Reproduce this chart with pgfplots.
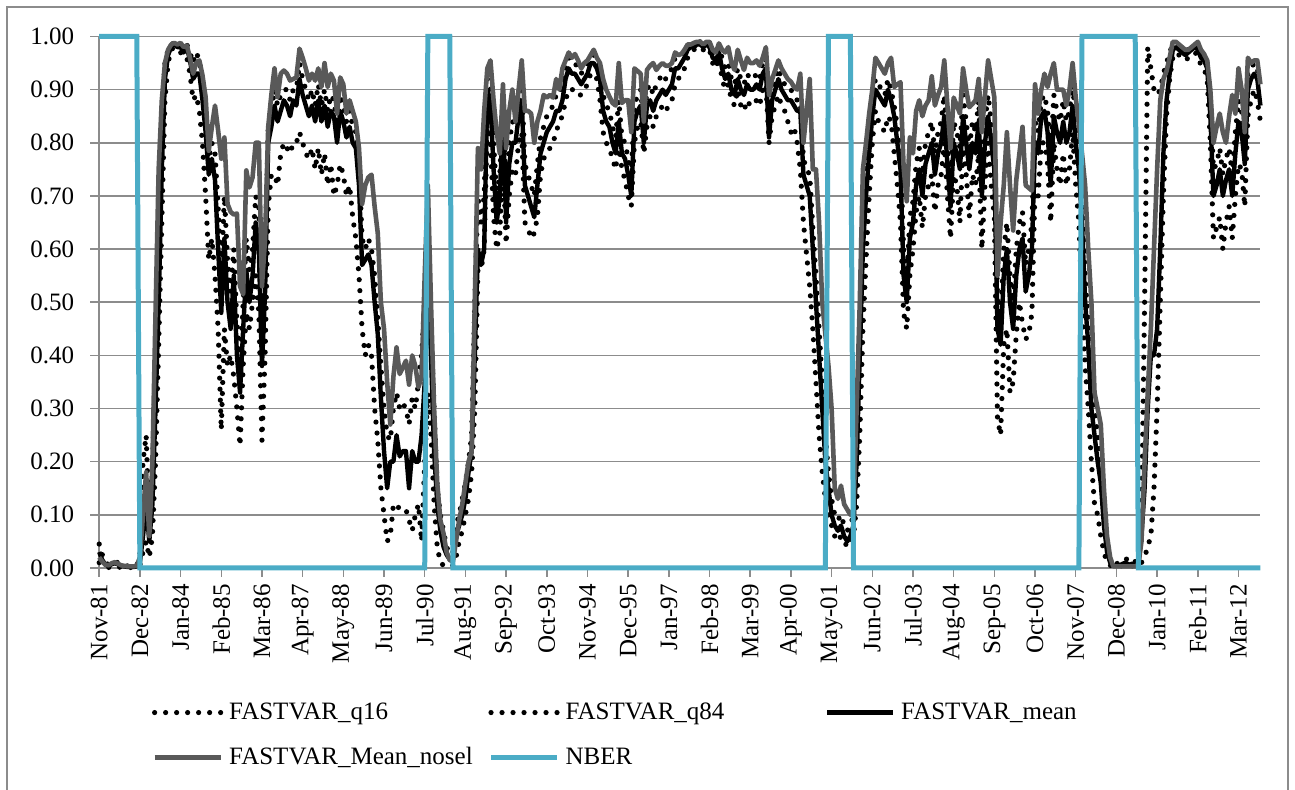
\documentclass[border=0pt]{standalone}
\usepackage{pgfplots}
\usepackage{pgfplotstable}
\pgfplotsset{compat=1.18}
\usepackage{fontspec}
\setmainfont{Liberation Serif}
\definecolor{gridgray}{RGB}{140,140,140}
\definecolor{noselgray}{RGB}{89,89,89}
\definecolor{nberblue}{RGB}{75,172,198}
\pgfplotstableread{
m q16 q84 mean nosel nber
0 0.01 0.045 0.03 0.02 1
1 0.005 0.025 0.015 0.012 1
2 0.002 0.01 0.006 0.006 1
3 0.001 0.006 0.004 0.005 1
4 0.002 0.01 0.007 0.009 1
5 0.003 0.012 0.009 0.011 1
6 0.002 0.01 0.007 0.008 1
7 0.001 0.006 0.004 0.005 1
8 0.001 0.005 0.003 0.004 1
9 0.001 0.004 0.002 0.003 1
10 0.001 0.004 0.002 0.003 1
11 0.001 0.004 0.002 0.003 1
12 0.001 0.005 0.003 0.004 1
13 0.005 0.02 0.01 0.02 0
14 0.03 0.2 0.06 0.1 0
15 0.05 0.25 0.12 0.18 0
16 0.02 0.08 0.05 0.06 0
17 0.06 0.18 0.12 0.2 0
18 0.2 0.4 0.3 0.48 0
19 0.42 0.62 0.5 0.75 0
20 0.65 0.85 0.75 0.88 0
21 0.88 0.95 0.92 0.95 0
22 0.95 0.975 0.965 0.975 0
23 0.975 0.985 0.98 0.985 0
24 0.98 0.988 0.985 0.988 0
25 0.975 0.985 0.98 0.985 0
26 0.97 0.985 0.98 0.988 0
27 0.96 0.975 0.97 0.98 0
28 0.96 0.985 0.98 0.983 0
29 0.93 0.97 0.955 0.96 0
30 0.88 0.95 0.92 0.93 0
31 0.89 0.97 0.93 0.95 0
32 0.86 0.955 0.93 0.955 0
33 0.8 0.92 0.88 0.927 0
34 0.7 0.86 0.82 0.886 0
35 0.58 0.77 0.74 0.785 0
36 0.62 0.8 0.77 0.83 0
37 0.55 0.78 0.73 0.87 0
38 0.45 0.68 0.6 0.823 0
39 0.26 0.55 0.48 0.77 0
40 0.45 0.7 0.62 0.81 0
41 0.38 0.58 0.5 0.685 0
42 0.4 0.52 0.45 0.67 0
43 0.36 0.6 0.55 0.665 0
44 0.3 0.46 0.4 0.667 0
45 0.23 0.38 0.33 0.53 0
46 0.38 0.5 0.45 0.515 0
47 0.48 0.62 0.56 0.748 0
48 0.45 0.56 0.5 0.716 0
49 0.5 0.6 0.55 0.735 0
50 0.55 0.7 0.65 0.8 0
51 0.48 0.68 0.6 0.8 0
52 0.24 0.44 0.38 0.53 0
53 0.4 0.58 0.52 0.62 0
54 0.68 0.83 0.8 0.83 0
55 0.74 0.86 0.83 0.89 0
56 0.74 0.9 0.87 0.94 0
57 0.72 0.87 0.84 0.886 0
58 0.78 0.89 0.86 0.93 0
59 0.8 0.9 0.88 0.936 0
60 0.79 0.9 0.87 0.93 0
61 0.78 0.88 0.85 0.917 0
62 0.8 0.9 0.88 0.92 0
63 0.8 0.9 0.87 0.923 0
64 0.82 0.95 0.92 0.977 0
65 0.8 0.92 0.89 0.96 0
66 0.78 0.9 0.87 0.94 0
67 0.77 0.88 0.85 0.917 0
68 0.79 0.9 0.87 0.93 0
69 0.75 0.87 0.84 0.917 0
70 0.79 0.91 0.88 0.94 0
71 0.74 0.87 0.84 0.905 0
72 0.78 0.9 0.87 0.95 0
73 0.72 0.86 0.83 0.905 0
74 0.76 0.89 0.86 0.93 0
75 0.7 0.88 0.85 0.917 0
76 0.72 0.83 0.8 0.855 0
77 0.76 0.89 0.86 0.923 0
78 0.74 0.87 0.84 0.91 0
79 0.7 0.84 0.81 0.855 0
80 0.72 0.86 0.83 0.88 0
81 0.66 0.83 0.8 0.86 0
82 0.62 0.82 0.79 0.84 0
83 0.55 0.76 0.72 0.79 0
84 0.45 0.62 0.57 0.685 0
85 0.4 0.6 0.58 0.72 0
86 0.42 0.62 0.59 0.735 0
87 0.4 0.6 0.57 0.74 0
88 0.3 0.55 0.5 0.68 0
89 0.24 0.47 0.44 0.63 0
90 0.15 0.38 0.32 0.5 0
91 0.1 0.3 0.22 0.45 0
92 0.05 0.25 0.15 0.35 0
93 0.06 0.24 0.2 0.27 0
94 0.12 0.3 0.2 0.36 0
95 0.12 0.33 0.25 0.415 0
96 0.11 0.3 0.21 0.365 0
97 0.11 0.31 0.22 0.377 0
98 0.11 0.3 0.22 0.39 0
99 0.09 0.27 0.15 0.345 0
100 0.07 0.32 0.22 0.4 0
101 0.1 0.3 0.2 0.38 0
102 0.12 0.35 0.2 0.34 0
103 0.05 0.4 0.25 0.36 0
104 0.2 0.5 0.35 0.55 0
105 0.33 0.62 0.55 0.72 1
106 0.25 0.45 0.4 0.5 1
107 0.12 0.3 0.22 0.3 1
108 0.04 0.15 0.12 0.16 1
109 0.01 0.1 0.07 0.09 1
110 0.005 0.07 0.04 0.065 1
111 0.003 0.04 0.025 0.03 1
112 0.002 0.025 0.016 0.015 1
113 0.005 0.03 0.02 0.012 0
114 0.02 0.08 0.06 0.05 0
115 0.05 0.1 0.08 0.09 0
116 0.07 0.13 0.1 0.12 0
117 0.1 0.16 0.13 0.16 0
118 0.13 0.2 0.18 0.2 0
119 0.18 0.25 0.22 0.22 0
120 0.3 0.5 0.4 0.5 0
121 0.56 0.7 0.6 0.79 0
122 0.56 0.65 0.57 0.75 0
123 0.6 0.7 0.6 0.86 0
124 0.84 0.92 0.9 0.94 0
125 0.8 0.91 0.88 0.955 0
126 0.66 0.8 0.75 0.88 0
127 0.6 0.7 0.65 0.82 0
128 0.63 0.74 0.7 0.78 0
129 0.78 0.88 0.85 0.91 0
130 0.61 0.7 0.65 0.79 0
131 0.7 0.8 0.76 0.86 0
132 0.75 0.84 0.8 0.9 0
133 0.74 0.83 0.8 0.84 0
134 0.8 0.88 0.85 0.9 0
135 0.82 0.91 0.88 0.955 0
136 0.65 0.76 0.72 0.86 0
137 0.64 0.74 0.7 0.86 0
138 0.62 0.72 0.68 0.855 0
139 0.63 0.7 0.66 0.8 0
140 0.66 0.76 0.72 0.84 0
141 0.74 0.81 0.78 0.86 0
142 0.77 0.83 0.8 0.89 0
143 0.78 0.85 0.82 0.885 0
144 0.79 0.86 0.83 0.89 0
145 0.8 0.87 0.84 0.885 0
146 0.82 0.89 0.86 0.92 0
147 0.84 0.89 0.86 0.9 0
148 0.85 0.91 0.88 0.94 0
149 0.88 0.94 0.92 0.955 0
150 0.9 0.96 0.94 0.97 0
151 0.9 0.95 0.93 0.96 0
152 0.9 0.95 0.93 0.967 0
153 0.89 0.94 0.92 0.955 0
154 0.89 0.93 0.91 0.94 0
155 0.9 0.94 0.92 0.95 0
156 0.91 0.95 0.93 0.955 0
157 0.93 0.96 0.95 0.965 0
158 0.93 0.965 0.95 0.975 0
159 0.92 0.955 0.94 0.96 0
160 0.88 0.94 0.92 0.95 0
161 0.82 0.89 0.86 0.92 0
162 0.8 0.87 0.84 0.9 0
163 0.79 0.86 0.83 0.887 0
164 0.77 0.83 0.8 0.875 0
165 0.75 0.81 0.78 0.87 0
166 0.8 0.88 0.84 0.95 0
167 0.75 0.81 0.78 0.875 0
168 0.73 0.8 0.77 0.88 0
169 0.7 0.77 0.74 0.88 0
170 0.68 0.74 0.7 0.82 0
171 0.8 0.87 0.84 0.94 0
172 0.83 0.89 0.86 0.935 0
173 0.84 0.9 0.87 0.93 0
174 0.78 0.83 0.8 0.84 0
175 0.83 0.9 0.87 0.937 0
176 0.85 0.91 0.88 0.945 0
177 0.83 0.89 0.86 0.95 0
178 0.85 0.91 0.88 0.937 0
179 0.86 0.92 0.89 0.945 0
180 0.87 0.93 0.9 0.95 0
181 0.86 0.92 0.89 0.945 0
182 0.87 0.93 0.9 0.945 0
183 0.88 0.94 0.91 0.95 0
184 0.91 0.96 0.94 0.97 0
185 0.92 0.96 0.94 0.965 0
186 0.93 0.965 0.95 0.967 0
187 0.94 0.97 0.96 0.975 0
188 0.96 0.98 0.975 0.985 0
189 0.97 0.985 0.98 0.985 0
190 0.975 0.988 0.98 0.988 0
191 0.98 0.99 0.985 0.99 0
192 0.98 0.99 0.985 0.99 0
193 0.975 0.985 0.98 0.985 0
194 0.98 0.99 0.985 0.99 0
195 0.975 0.988 0.98 0.99 0
196 0.95 0.97 0.96 0.975 0
197 0.94 0.965 0.955 0.97 0
198 0.96 0.98 0.97 0.987 0
199 0.92 0.96 0.94 0.975 0
200 0.9 0.94 0.92 0.97 0
201 0.91 0.95 0.93 0.98 0
202 0.88 0.92 0.9 0.95 0
203 0.87 0.91 0.89 0.937 0
204 0.9 0.94 0.92 0.975 0
205 0.87 0.92 0.9 0.955 0
206 0.86 0.91 0.89 0.937 0
207 0.88 0.93 0.91 0.96 0
208 0.87 0.92 0.9 0.95 0
209 0.87 0.92 0.9 0.95 0
210 0.88 0.93 0.91 0.955 0
211 0.87 0.92 0.9 0.945 0
212 0.9 0.95 0.93 0.96 0
213 0.91 0.96 0.94 0.98 0
214 0.8 0.83 0.81 0.89 0
215 0.85 0.9 0.88 0.92 0
216 0.87 0.92 0.9 0.937 0
217 0.89 0.94 0.92 0.955 0
218 0.87 0.92 0.9 0.94 0
219 0.86 0.91 0.89 0.93 0
220 0.84 0.9 0.88 0.92 0
221 0.82 0.9 0.88 0.915 0
222 0.83 0.89 0.87 0.905 0
223 0.8 0.88 0.86 0.9 0
224 0.75 0.88 0.86 0.93 0
225 0.65 0.77 0.74 0.8 0
226 0.59 0.75 0.72 0.86 0
227 0.53 0.74 0.7 0.92 0
228 0.45 0.64 0.6 0.75 0
229 0.35 0.55 0.5 0.75 0
230 0.25 0.45 0.4 0.65 0
231 0.18 0.35 0.3 0.5 0
232 0.13 0.25 0.2 0.44 0
233 0.1 0.18 0.15 0.38 1
234 0.08 0.13 0.1 0.3 1
235 0.06 0.1 0.08 0.15 1
236 0.05 0.09 0.07 0.13 1
237 0.06 0.1 0.08 0.155 1
238 0.05 0.08 0.06 0.12 1
239 0.04 0.07 0.05 0.11 1
240 0.05 0.08 0.06 0.1 1
241 0.06 0.1 0.08 0.11 0
242 0.12 0.25 0.2 0.3 0
243 0.25 0.45 0.4 0.5 0
244 0.45 0.65 0.6 0.75 0
245 0.58 0.75 0.7 0.8 0
246 0.7 0.82 0.78 0.855 0
247 0.8 0.88 0.85 0.9 0
248 0.86 0.92 0.9 0.96 0
249 0.84 0.91 0.89 0.95 0
250 0.83 0.9 0.88 0.94 0
251 0.82 0.89 0.87 0.93 0
252 0.85 0.92 0.9 0.95 0
253 0.84 0.9 0.88 0.96 0
254 0.78 0.87 0.85 0.905 0
255 0.72 0.83 0.8 0.91 0
256 0.65 0.78 0.75 0.914 0
257 0.48 0.6 0.55 0.755 0
258 0.45 0.54 0.5 0.69 0
259 0.55 0.66 0.62 0.81 0
260 0.6 0.69 0.65 0.78 0
261 0.67 0.76 0.72 0.86 0
262 0.7 0.79 0.75 0.88 0
263 0.64 0.74 0.7 0.85 0
264 0.7 0.8 0.76 0.87 0
265 0.72 0.82 0.78 0.88 0
266 0.74 0.84 0.8 0.925 0
267 0.67 0.78 0.74 0.87 0
268 0.72 0.82 0.78 0.89 0
269 0.74 0.84 0.8 0.905 0
270 0.8 0.89 0.85 0.955 0
271 0.7 0.8 0.76 0.87 0
272 0.62 0.72 0.68 0.79 0
273 0.74 0.84 0.8 0.885 0
274 0.72 0.82 0.78 0.87 0
275 0.65 0.79 0.75 0.855 0
276 0.8 0.89 0.85 0.94 0
277 0.74 0.84 0.8 0.9 0
278 0.66 0.79 0.75 0.867 0
279 0.74 0.84 0.8 0.873 0
280 0.72 0.82 0.78 0.88 0
281 0.78 0.88 0.84 0.92 0
282 0.6 0.74 0.7 0.82 0
283 0.72 0.84 0.8 0.89 0
284 0.8 0.89 0.85 0.955 0
285 0.72 0.84 0.8 0.92 0
286 0.66 0.79 0.75 0.885 0
287 0.28 0.5 0.45 0.55 0
288 0.25 0.47 0.42 0.65 0
289 0.42 0.6 0.55 0.72 0
290 0.45 0.65 0.6 0.82 0
291 0.33 0.55 0.5 0.72 0
292 0.35 0.5 0.45 0.635 0
293 0.44 0.6 0.55 0.73 0
294 0.5 0.65 0.6 0.78 0
295 0.46 0.67 0.62 0.83 0
296 0.43 0.57 0.52 0.72 0
297 0.44 0.6 0.55 0.715 0
298 0.48 0.65 0.6 0.71 0
299 0.72 0.84 0.8 0.91 0
300 0.7 0.82 0.78 0.855 0
301 0.8 0.88 0.85 0.9 0
302 0.8 0.89 0.86 0.93 0
303 0.76 0.86 0.82 0.905 0
304 0.65 0.77 0.72 0.93 0
305 0.8 0.89 0.85 0.95 0
306 0.75 0.86 0.82 0.9 0
307 0.72 0.84 0.8 0.9 0
308 0.78 0.88 0.84 0.9 0
309 0.72 0.84 0.8 0.87 0
310 0.75 0.86 0.82 0.9 0
311 0.82 0.91 0.87 0.95 0
312 0.72 0.84 0.8 0.885 0
313 0.65 0.79 0.75 0.835 0
314 0.5 0.7 0.65 0.78 1
315 0.38 0.55 0.5 0.72 1
316 0.3 0.46 0.42 0.6 1
317 0.2 0.35 0.3 0.5 1
318 0.12 0.3 0.25 0.33 1
319 0.1 0.25 0.2 0.3 1
320 0.06 0.2 0.16 0.27 1
321 0.03 0.1 0.08 0.15 1
322 0.01 0.04 0.03 0.06 1
323 0.005 0.015 0.01 0.02 1
324 0.003 0.008 0.005 0.003 1
325 0.003 0.008 0.004 0.003 1
326 0.004 0.01 0.005 0.003 1
327 0.004 0.014 0.008 0.003 1
328 0.004 0.018 0.01 0.003 1
329 0.004 0.012 0.006 0.003 1
330 0.004 0.016 0.008 0.003 1
331 0.004 0.012 0.005 0.003 1
332 0.004 0.01 0.006 0.006 0
333 0.01 0.08 0.06 0.05 0
334 0.02 0.5 0.15 0.2 0
335 0.04 0.98 0.3 0.33 0
336 0.06 0.94 0.4 0.45 0
337 0.15 0.9 0.4 0.6 0
338 0.3 0.89 0.45 0.75 0
339 0.5 0.9 0.6 0.88 0
340 0.7 0.93 0.78 0.92 0
341 0.85 0.95 0.88 0.935 0
342 0.92 0.97 0.93 0.96 0
343 0.96 0.985 0.975 0.99 0
344 0.97 0.985 0.98 0.99 0
345 0.965 0.982 0.975 0.985 0
346 0.96 0.98 0.97 0.98 0
347 0.955 0.975 0.965 0.975 0
348 0.96 0.975 0.97 0.975 0
349 0.965 0.98 0.975 0.98 0
350 0.97 0.985 0.98 0.985 0
351 0.965 0.985 0.975 0.99 0
352 0.945 0.97 0.96 0.975 0
353 0.94 0.965 0.955 0.967 0
354 0.92 0.95 0.94 0.955 0
355 0.8 0.88 0.85 0.9 0
356 0.62 0.75 0.7 0.8 0
357 0.64 0.76 0.72 0.83 0
358 0.66 0.79 0.75 0.855 0
359 0.6 0.74 0.7 0.82 0
360 0.65 0.77 0.73 0.8 0
361 0.68 0.79 0.75 0.85 0
362 0.62 0.74 0.7 0.89 0
363 0.7 0.82 0.78 0.855 0
364 0.76 0.88 0.84 0.94 0
365 0.75 0.86 0.82 0.9 0
366 0.68 0.8 0.76 0.82 0
367 0.85 0.93 0.9 0.96 0
368 0.88 0.94 0.92 0.95 0
369 0.9 0.95 0.93 0.955 0
370 0.88 0.94 0.92 0.955 0
371 0.84 0.9 0.87 0.91 0
}\data
\begin{document}
\begin{tikzpicture}[x=1pt,y=1pt]
\useasboundingbox (0,0) rectangle (647.5,395);
\draw[gridgray, line width=0.75pt] (3.6,-10) rectangle (644,391.5);
\begin{axis}[
  at={(49.6pt,111pt)}, anchor=south west,
  scale only axis, width=580.6pt, height=265.75pt,
  xmin=0, xmax=371, ymin=0, ymax=1,
  clip=false,
  axis x line*=bottom, axis y line*=left,
  axis line style={draw=gridgray, line width=0.75pt},
  ymajorgrids, grid style={gridgray, line width=0.75pt},
  tick align=outside, major tick length=4.5pt,
  tick style={gridgray, line width=0.75pt},
  xtick={0,13,...,364},
  xticklabels={Nov-81,Dec-82,Jan-84,Feb-85,Mar-86,Apr-87,May-88,Jun-89,Jul-90,Aug-91,Sep-92,Oct-93,Nov-94,Dec-95,Jan-97,Feb-98,Mar-99,Apr-00,May-01,Jun-02,Jul-03,Aug-04,Sep-05,Oct-06,Nov-07,Dec-08,Jan-10,Feb-11,Mar-12},
  ytick={0,0.1,0.2,0.3,0.4,0.5,0.6,0.7,0.8,0.9,1},
  /pgf/number format/assume math mode=true,
  yticklabel={\pgfmathprintnumber[fixed,fixed zerofill,precision=2]{\tick}},
  tick label style={font=\fontsize{12.5}{15}\selectfont, black},
  xticklabel style={rotate=90, anchor=east},
  yticklabel style={xshift=-4.5pt},
  legend columns=3,
  legend cell align=left,
  legend image code/.code={\draw[#1] (0pt,0pt) -- (33pt,0pt);},
  legend style={at={(0.0455,-0.246)}, anchor=north west, draw=none, fill=none,
    inner sep=0pt, outer sep=0pt, row sep=8.5pt,
    font=\fontsize{12.5}{15}\selectfont,
    /tikz/every odd column/.append style={column sep=1pt},
    /tikz/every even column/.append style={column sep=0pt}},
]
\addplot[black, line width=2.6pt, dash pattern=on 0pt off 5.5pt, line cap=round] table[x=m,y=q16]{\data};
\addlegendentry{\makebox[127.6pt][l]{FASTVAR\_q16}}
\addplot[black, line width=2.6pt, dash pattern=on 0pt off 5.5pt, line cap=round] table[x=m,y=q84]{\data};
\addlegendentry{\makebox[127.6pt][l]{FASTVAR\_q84}}
\addplot[black, line width=2.2pt, line join=round] table[x=m,y=mean]{\data};
\addlegendentry{FASTVAR\_mean}
\addplot[noselgray, line width=2.3pt, line join=round] table[x=m,y=nosel]{\data};
\addlegendentry{\makebox[127.6pt][l]{FASTVAR\_Mean\_nosel}}
\addplot[nberblue, line width=2.5pt] table[x=m,y=nber]{\data};
\addlegendentry{NBER}
\end{axis}
\end{tikzpicture}
\end{document}
